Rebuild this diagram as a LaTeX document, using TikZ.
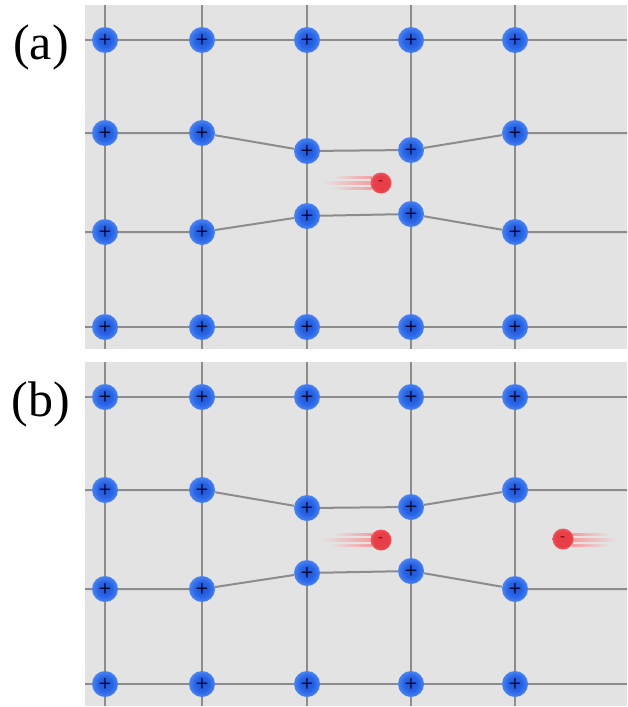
\documentclass[tikz,border=0pt]{standalone}
\usepackage{fontspec}
\setmainfont{Liberation Serif}
\definecolor{bggray}{RGB}{227,227,227}
\definecolor{bondgray}{RGB}{140,140,140}
\definecolor{ionmid}{RGB}{40,100,228}
\definecolor{ionring}{RGB}{95,150,252}
\definecolor{ionedge}{RGB}{30,85,215}
\definecolor{elcore}{RGB}{232,62,72}
\definecolor{elring}{RGB}{252,120,125}
\definecolor{elred}{RGB}{240,90,95}
% glassy spheres: lighter ring, darker core and rim
\pgfdeclareradialshading{ionball}{\pgfpoint{0bp}{0bp}}{%
  color(0bp)=(ionedge); color(14bp)=(ionmid); color(32bp)=(ionring);
  color(44bp)=(ionmid); color(50bp)=(ionedge); color(100bp)=(ionedge)}
\pgfdeclareradialshading{electronball}{\pgfpoint{0bp}{0bp}}{%
  color(0bp)=(elcore); color(18bp)=(elcore); color(36bp)=(elring);
  color(46bp)=(elred); color(50bp)=(elcore); color(100bp)=(elcore)}
\tikzset{
  panelbg/.style={fill=bggray},
  bond/.style={draw=bondgray, line width=2pt},
  ion/.style={circle, minimum size=26pt, inner sep=0pt, shading=ionball,
    text=black!85!blue, font=\sffamily\bfseries\fontsize{15}{15}\selectfont},
  electron/.style={circle, minimum size=21pt, inner sep=0pt, shading=electronball,
    text=black!60!red, font=\sffamily\bfseries\fontsize{14}{14}\selectfont},
  streak/.style={left color=bggray, right color=elred!60},
  rstreak/.style={right color=bggray, left color=elred!60},
  panellabel/.style={font=\fontsize{50}{50}\selectfont, inner sep=0pt}
}
% One lattice of positive ions with its bonds; rows 2 and 3 are pulled
% towards each other around the middle columns.
\newcommand\drawlattice{%
  \fill[panelbg] (85,5) rectangle (627,349);
  % edge points where the bonds leave the panel
  \foreach \c/\x in {1/105,2/202,3/307,4/411,5/515}{
    \coordinate (t\c) at (\x,5);
    \coordinate (b\c) at (\x,349);
  }
  \foreach \r/\y in {1/40,2/133,3/232,4/327}{
    \coordinate (l\r) at (85,\y);
    \coordinate (r\r) at (627,\y);
  }
  % ions
  \foreach \c/\x in {1/105,2/202,3/307,4/411,5/515}{
    \node[ion] (n1\c) at (\x,40) {+};
    \node[ion] (n4\c) at (\x,327) {+};
  }
  \node[ion] (n21) at (105,133) {+};
  \node[ion] (n22) at (202,133) {+};
  \node[ion] (n23) at (307,151) {+};
  \node[ion] (n24) at (411,150) {+};
  \node[ion] (n25) at (515,133) {+};
  \node[ion] (n31) at (105,232) {+};
  \node[ion] (n32) at (202,232) {+};
  \node[ion] (n33) at (307,216) {+};
  \node[ion] (n34) at (411,214) {+};
  \node[ion] (n35) at (515,232) {+};
  % bonds
  \foreach \c in {1,...,5}{
    \draw[bond] (t\c) -- (n1\c) (n1\c) -- (n2\c) (n2\c) -- (n3\c)
      (n3\c) -- (n4\c) (n4\c) -- (b\c);
  }
  \foreach \r in {1,...,4}{
    \draw[bond] (l\r) -- (n\r1) (n\r1) -- (n\r2) (n\r2) -- (n\r3)
      (n\r3) -- (n\r4) (n\r4) -- (n\r5) (n\r5) -- (r\r);
  }
}
\begin{document}
\begin{tikzpicture}[x=1pt,y=-1pt]
\useasboundingbox (0,0) rectangle (627,707);
\fill[white] (0,0) rectangle (627,707);

% (a): one electron moving through the lattice
\begin{scope}[name prefix=a-]
  \drawlattice
  \shade[streak] (333,176.5) rectangle (372,178.5);
  \shade[streak] (322,181.5) rectangle (373,184.5);
  \shade[streak] (330,187.5) rectangle (372,189.5);
  \node[electron] (e) at (381,183) {-};
  \node[panellabel] (lbl) at (41,47) {(a)};
\end{scope}

% (b): a second electron following the first
\begin{scope}[name prefix=b-, shift={(0,357)}]
  \drawlattice
  \shade[streak] (333,176.5) rectangle (372,178.5);
  \shade[streak] (322,181.5) rectangle (373,184.5);
  \shade[streak] (330,187.5) rectangle (372,189.5);
  \node[electron] (e) at (381,183) {-};
  \shade[rstreak] (572,176.5) rectangle (610,178.5);
  \shade[rstreak] (571,181.5) rectangle (618,184.5);
  \shade[rstreak] (572,187.5) rectangle (610,189.5);
  \node[electron] (f) at (563,182) {-};
  \node[panellabel] (lbl) at (41,47) {(b)};
\end{scope}
\end{tikzpicture}
\end{document}
